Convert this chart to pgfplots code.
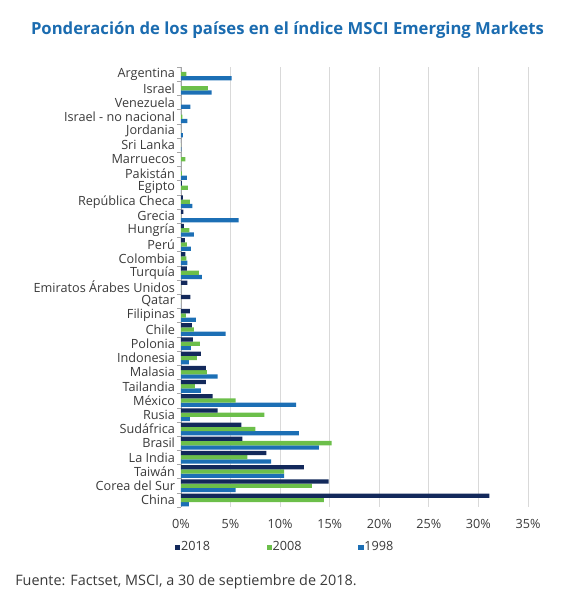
\documentclass[border=0pt]{standalone}
\usepackage{fontspec}
\setmainfont{Open Sans}
\usepackage{pgfplots}
\pgfplotsset{compat=1.18}
\usepackage{pgfplotstable}
\definecolor{cnavy}{HTML}{13295B}
\definecolor{cgreen}{HTML}{6CBF4A}
\definecolor{cblue}{HTML}{1C6FB5}
\definecolor{ctitle}{HTML}{1B6CB0}
\definecolor{cgrid}{HTML}{D9D9D9}
\definecolor{caxis}{HTML}{A6A6A6}
\definecolor{ctext}{HTML}{3A3A3A}

% y: 30 = Argentina (top) ... 0 = China (bottom)
\pgfplotstableread{
y  v2018 v2008 v1998
30 0     0.55  5.1
29 0     2.7   3.1
28 0     0     0.95
27 0     0.15  0.65
26 0     0     0.2
25 0     0     0.05
24 0     0.45  0
23 0     0.1   0.6
22 0.1   0.7   0
21 0.2   0.9   1.15
20 0.25  0     5.8
19 0.3   0.85  1.3
18 0.4   0.6   1.0
17 0.45  0.55  0.65
16 0.6   1.8   2.1
15 0.65  0     0
14 0.95  0     0
13 0.9   0.5   1.5
12 1.1   1.3   4.5
11 1.2   1.9   1.0
10 2.0   1.6   0.8
9  2.5   2.6   3.7
8  2.5   1.4   2.0
7  3.2   5.5   11.6
6  3.7   8.4   0.9
5  6.1   7.5   11.9
4  6.2   15.2  13.9
3  8.6   6.7   9.1
2  12.4  10.4  10.4
1  14.9  13.2  5.5
0  31.1  14.4  0.8
}\data

\begin{document}
\begin{tikzpicture}
\path[use as bounding box] (0,0) rectangle (435pt,450pt);
\node[font=\bfseries\fontsize{12.5}{15}\selectfont, text=ctitle] at (215.6pt,427.5pt)
  {Ponderación de los países en el índice MSCI Emerging Markets};
\begin{axis}[
  at={(135.75pt,69.75pt)}, anchor=south west,
  scale only axis, width=260.25pt, height=330pt,
  xbar=0pt, bar width=3.2pt,
  xmin=0, xmax=35, ymin=-0.5, ymax=30.5,
  xtick={0,5,...,35},
  xticklabel={\pgfmathprintnumber{\tick}\%},
  ytick={0,...,30},
  yticklabels={China,Corea del Sur,Taiwán,La India,Brasil,Sudáfrica,Rusia,México,Tailandia,Malasia,Indonesia,Polonia,Chile,Filipinas,Qatar,Emiratos Árabes Unidos,Turquía,Colombia,Perú,Hungría,Grecia,República Checa,Egipto,Pakistán,Marruecos,Sri Lanka,Jordania,Israel - no nacional,Venezuela,Israel,Argentina},
  minor ytick={-0.5,0.5,...,30.5},
  axis lines*=left,
  axis line style={-},
  x axis line style={draw=none},
  y axis line style={draw=caxis},
  major tick length=0pt,
  minor tick length=3pt,
  tick align=outside,
  minor tick style={caxis},
  xmajorgrids,
  major grid style={cgrid, line width=0.6pt},
  tick label style={font=\fontsize{9.5}{11}\selectfont, text=ctext},
  /pgf/number format/assume math mode=true,
  xticklabel style={yshift=-5.5pt},
  yticklabel style={xshift=-1pt},
  legend columns=3,
  reverse legend,
  legend style={at={(-0.029,-0.07)}, anchor=north west, draw=none,
    font=\fontsize{9.5}{11}\selectfont, text=ctext,
    nodes={inner sep=0.6pt},
    /tikz/every even column/.append style={column sep=42pt}},
]
\addplot[draw=none, fill=cblue, legend image code/.code={\fill[cblue] (0pt,-1.9pt) rectangle (3.8pt,1.9pt);}] table[x=v1998, y=y] {\data};
\addplot[draw=none, fill=cgreen, legend image code/.code={\fill[cgreen] (0pt,-1.9pt) rectangle (3.8pt,1.9pt);}] table[x=v2008, y=y] {\data};
\addplot[draw=none, fill=cnavy, legend image code/.code={\fill[cnavy] (0pt,-1.9pt) rectangle (3.8pt,1.9pt);}] table[x=v2018, y=y] {\data};
\legend{1998,2008,2018}
\end{axis}
\node[anchor=west, inner sep=0pt, font=\fontsize{10.8}{13}\selectfont, text=ctext] at (11.25pt,13.5pt)
  {Fuente: Factset, MSCI, a 30 de septiembre de 2018.};
\end{tikzpicture}
\end{document}
